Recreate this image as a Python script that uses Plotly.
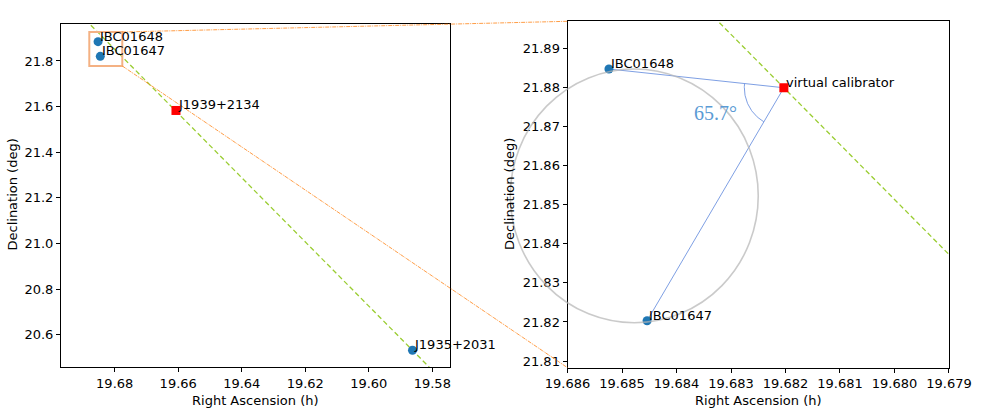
import numpy as np
import plotly.graph_objects as go

# source positions (RA in hours, Dec in degrees)
names_ibc = ["IBC01648", "IBC01647"]
ra_ibc = [19.68524, 19.68454]
dec_ibc = [21.8847, 21.8203]

name_j1935 = "J1935+2031"
ra_j1935 = 19.58624
dec_j1935 = 20.53169

name_j1939 = "J1939+2134"
ra_j1939 = 19.66071
dec_j1939 = 21.58308

name_vc = "virtual calibrator"
ra_vc = 19.68203
dec_vc = 21.8799

# zoom box drawn on the left panel
box_ra = [19.68800, 19.67761]
box_dec = [21.7781, 21.9271]

# grey circle round the two in-beam calibrators
circle_ra = [19.68705, 19.68250]
circle_dec = [21.8198, 21.8847]

angle_text = "65.7°"
angle_pos = (19.68328, 21.8734)
arc_radius = 0.0101  # deg on sky

# axis ranges and domains
xr1, yr1 = [19.69691, 19.57443], [20.4584, 21.9622]
xr2, yr2 = [19.686, 19.679], [21.8083, 21.8969]
xd1, yd1 = [0.06218, 0.45872], [0.11990, 0.94245]
xd2, yd2 = [0.57850, 0.96738], [0.11823, 0.94892]

W, H = 981, 417
FONT = "DejaVu Sans"
BLUE = "#1f77b4"
LINK = "#6f94e0"


def px(v, dom, rng):
    return dom[0] + (v - rng[0]) / (rng[1] - rng[0]) * (dom[1] - dom[0])


fig = go.Figure()

# line through the two calibrators (and the virtual calibrator)
slope = (dec_vc - dec_j1935) / (ra_vc - ra_j1935)
line_ra = np.array([19.55, 19.72])
line_dec = dec_j1935 + slope * (line_ra - ra_j1935)
for xa, ya in [("x", "y"), ("x2", "y2")]:
    fig.add_trace(go.Scatter(x=line_ra, y=line_dec, mode="lines", xaxis=xa, yaxis=ya,
                             line=dict(color="yellowgreen", width=1.3, dash="5px,3px"),
                             hoverinfo="skip"))

# lines from virtual calibrator to the IBCs
fig.add_trace(go.Scatter(x=[ra_ibc[0], ra_vc, ra_ibc[1]], y=[dec_ibc[0], dec_vc, dec_ibc[1]],
                         mode="lines", xaxis="x2", yaxis="y2",
                         line=dict(color=LINK, width=0.9)))

# angle arc
k = 15 * np.cos(np.radians(dec_vc))
t1 = np.arctan2(dec_ibc[0] - dec_vc, (ra_ibc[0] - ra_vc) * k)
t2 = np.arctan2(dec_ibc[1] - dec_vc, (ra_ibc[1] - ra_vc) * k)
th = np.linspace(t2, t1, 60)
fig.add_trace(go.Scatter(x=ra_vc + arc_radius * np.cos(th) / k,
                         y=dec_vc + arc_radius * np.sin(th),
                         mode="lines", xaxis="x2", yaxis="y2",
                         line=dict(color=LINK, width=0.9)))

# markers, left panel
fig.add_trace(go.Scatter(x=ra_ibc + [ra_j1935], y=dec_ibc + [dec_j1935], mode="markers",
                         marker=dict(color=BLUE, size=9), xaxis="x", yaxis="y"))
fig.add_trace(go.Scatter(x=[ra_j1939], y=[dec_j1939], mode="markers",
                         marker=dict(color="red", size=9, symbol="square"), xaxis="x", yaxis="y"))
# markers, right panel
fig.add_trace(go.Scatter(x=ra_ibc, y=dec_ibc, mode="markers",
                         marker=dict(color=BLUE, size=9), xaxis="x2", yaxis="y2"))
fig.add_trace(go.Scatter(x=[ra_vc], y=[dec_vc], mode="markers",
                         marker=dict(color="red", size=9, symbol="square"), xaxis="x2", yaxis="y2"))

# labels next to the points
labels = [
    ("x", "y", ra_ibc[0], dec_ibc[0], names_ibc[0]),
    ("x", "y", ra_ibc[1], dec_ibc[1], names_ibc[1]),
    ("x", "y", ra_j1939, dec_j1939, name_j1939),
    ("x", "y", ra_j1935, dec_j1935, name_j1935),
    ("x2", "y2", ra_ibc[0], dec_ibc[0], names_ibc[0]),
    ("x2", "y2", ra_ibc[1], dec_ibc[1], names_ibc[1]),
    ("x2", "y2", ra_vc, dec_vc, name_vc),
]
for xa, ya, xv, yv, txt in labels:
    fig.add_annotation(x=xv, y=yv, xref=xa, yref=ya, text=txt, showarrow=False,
                       xanchor="left", yanchor="bottom", yshift=-4,
                       font=dict(family=FONT, size=13, color="black"))

fig.add_annotation(x=angle_pos[0], y=angle_pos[1], xref="x2", yref="y2", text=angle_text,
                   showarrow=False, font=dict(family="Liberation Serif", size=20, color="#5b9bd5"))

# axis titles
for dom_x, dom_y in [(xd1, yd1), (xd2, yd2)]:
    fig.add_annotation(x=sum(dom_x) / 2, y=(H - 400) / H, xref="paper", yref="paper",
                       text="Right Ascension (h)", showarrow=False,
                       xanchor="center", yanchor="middle",
                       font=dict(family=FONT, size=13, color="black"))
fig.add_annotation(x=11.5 / W, y=(H - 195) / H, xref="paper", yref="paper",
                   text="Declination (deg)", showarrow=False, textangle=-90,
                   xanchor="center", yanchor="middle", font=dict(family=FONT, size=13, color="black"))
fig.add_annotation(x=509 / W, y=(H - 194) / H, xref="paper", yref="paper",
                   text="Declination (deg)", showarrow=False, textangle=-90,
                   xanchor="center", yanchor="middle", font=dict(family=FONT, size=13, color="black"))

# zoom box and connectors
fig.add_shape(type="rect", xref="x", yref="y", x0=box_ra[0], x1=box_ra[1],
              y0=box_dec[0], y1=box_dec[1], line=dict(color="#f4b183", width=2))
for yb, yt in [(box_dec[1], yr2[1]), (box_dec[0], yr2[0])]:
    fig.add_shape(type="line", xref="paper", yref="paper", layer="above",
                  x0=px(box_ra[1], xd1, xr1), y0=px(yb, yd1, yr1),
                  x1=px(xr2[0], xd2, xr2), y1=px(yt, yd2, yr2),
                  line=dict(color="rgba(255,127,14,0.85)", width=0.9, dash="4px,1px,1px,1px"))

# grey circle (not clipped, so in paper coordinates)
fig.add_shape(type="circle", xref="paper", yref="paper", layer="above",
              x0=px(circle_ra[0], xd2, xr2), x1=px(circle_ra[1], xd2, xr2),
              y0=px(circle_dec[0], yd2, yr2), y1=px(circle_dec[1], yd2, yr2),
              line=dict(color="rgba(180,180,180,0.7)", width=1.6))

ax = dict(showline=True, linecolor="black", linewidth=1, mirror=True, ticks="outside",
          ticklen=4, tickwidth=1, tickcolor="black", showgrid=False, zeroline=False,
          tickfont=dict(family=FONT, size=13, color="black"), automargin=False)

fig.update_layout(
    width=W, height=H,
    margin=dict(l=0, r=0, t=0, b=0),
    paper_bgcolor="white", plot_bgcolor="white",
    showlegend=False,
    xaxis=dict(ax, domain=xd1, range=xr1, tick0=19.58, dtick=0.02, tickformat=".2f", anchor="y"),
    yaxis=dict(ax, domain=yd1, range=yr1, tick0=20.6, dtick=0.2, tickformat=".1f", anchor="x"),
    xaxis2=dict(ax, domain=xd2, range=xr2, tick0=19.679, dtick=0.001, tickformat=".3f", anchor="y2"),
    yaxis2=dict(ax, domain=yd2, range=yr2, tick0=21.81, dtick=0.01, tickformat=".2f", anchor="x2"),
)

fig.write_html("out.html", config={"displayModeBar": False},
               post_script="document.body.style.margin='0';")
